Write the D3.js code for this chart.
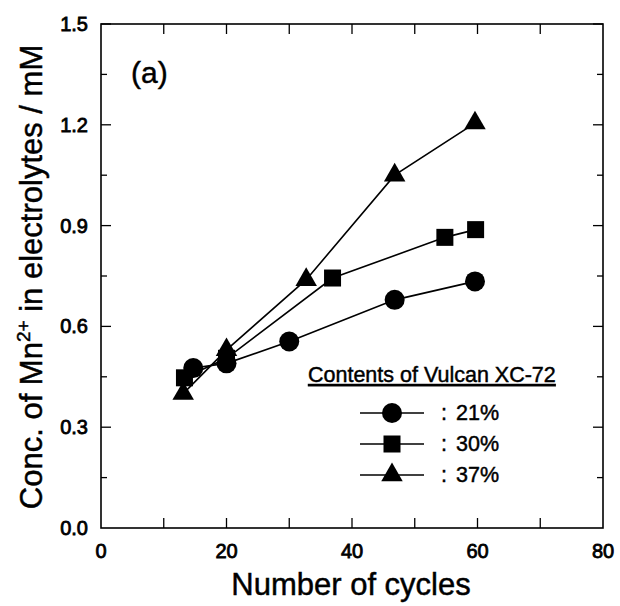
<!DOCTYPE html>
<html>
<head>
<meta charset="utf-8">
<script src="https://cdn.jsdelivr.net/npm/d3@7"></script>
<style>
  body { margin: 0; background: #fff; }
  svg text { font-family: "Liberation Sans", Arial, sans-serif; fill: #000; stroke: #000; stroke-width: 0.45px; }
  svg text.tick-label { stroke-width: 0.8px; }
</style>
</head>
<body>
<div id="chart"></div>
<script>
// data
const cycles21 = [14.7, 20, 30, 46.8, 59.6];
const conc21   = [0.476, 0.49, 0.555, 0.679, 0.734];
const cycles30 = [13.3, 20, 36.9, 54.8, 59.7];
const conc30   = [0.447, 0.505, 0.744, 0.865, 0.888];
const cycles37 = [13.1, 20, 32.7, 46.8, 59.6];
const conc37   = [0.40, 0.53, 0.739, 1.05, 1.205];

const seriesNames = ["21%", "30%", "37%"];
const markerKinds = ["circle", "square", "triangle"];
const xTicks = [0, 20, 40, 60, 80];
const yTicks = [0.0, 0.3, 0.6, 0.9, 1.2, 1.5];

const width = 620, height = 606;
const margin = {top: 24, right: 17, bottom: 78, left: 101};

const svg = d3.select("#chart").append("svg")
    .attr("width", width)
    .attr("height", height);

const x = d3.scaleLinear().domain([0, 80]).range([margin.left, width - margin.right]);
const y = d3.scaleLinear().domain([0, 1.5]).range([height - margin.bottom, margin.top]);

// frame
svg.append("rect")
    .attr("x", x(0)).attr("y", y(1.5))
    .attr("width", x(80) - x(0)).attr("height", y(0) - y(1.5))
    .attr("fill", "none").attr("stroke", "#000").attr("stroke-width", 1.6);

// inward ticks
const xMinor = d3.range(10, 80, 10);
const yAll = d3.range(0.15, 1.5, 0.15);
const ticks = svg.append("g").attr("stroke", "#000").attr("stroke-width", 1.3);
xMinor.forEach(v => {
    ticks.append("line").attr("x1", x(v)).attr("x2", x(v)).attr("y1", y(0)).attr("y2", y(0) - 10);
    ticks.append("line").attr("x1", x(v)).attr("x2", x(v)).attr("y1", y(1.5)).attr("y2", y(1.5) + 10);
});
yAll.forEach(v => {
    const major = Math.abs(v / 0.3 - Math.round(v / 0.3)) < 1e-6;
    const len = major ? 10 : 6;
    ticks.append("line").attr("x1", x(0)).attr("x2", x(0) + len).attr("y1", y(v)).attr("y2", y(v));
    ticks.append("line").attr("x1", x(80)).attr("x2", x(80) - len).attr("y1", y(v)).attr("y2", y(v));
});

// tick labels
svg.append("g").selectAll("text").data(xTicks).join("text")
    .attr("class", "tick-label")
    .attr("x", d => x(d)).attr("y", y(0) + 30)
    .attr("text-anchor", "middle")
    .attr("font-size", 20)
    .text(d => d);

svg.append("g").selectAll("text").data(yTicks).join("text")
    .attr("class", "tick-label")
    .attr("x", x(0) - 13).attr("y", d => y(d) + 7)
    .attr("text-anchor", "end")
    .attr("font-size", 20)
    .text(d => d.toFixed(1));

// axis titles
svg.append("text")
    .attr("x", 351).attr("y", 595)
    .attr("text-anchor", "middle")
    .attr("font-size", 31)
    .text("Number of cycles");

const yTitle = svg.append("text")
    .attr("transform", "translate(42,277) rotate(-90)")
    .attr("text-anchor", "middle")
    .attr("font-size", 31);
yTitle.append("tspan").text("Conc. of Mn");
yTitle.append("tspan").attr("font-size", 19).attr("dy", -12).text("2+");
yTitle.append("tspan").attr("dy", 12).text(" in electrolytes / mM");

svg.append("text")
    .attr("x", 131).attr("y", 83)
    .attr("font-size", 30)
    .text("(a)");

// markers
function drawMarker(g, kind, cx, cy) {
    if (kind === "circle") {
        g.append("circle").attr("cx", cx).attr("cy", cy).attr("r", 10);
    } else if (kind === "square") {
        g.append("rect").attr("x", cx - 8.5).attr("y", cy - 8.5).attr("width", 17).attr("height", 17);
    } else {
        g.append("path").attr("d", d3.symbol(d3.symbolTriangle, 200)()).attr("transform", `translate(${cx},${cy})`);
    }
}

const series = [
    {xs: cycles21, ys: conc21},
    {xs: cycles30, ys: conc30},
    {xs: cycles37, ys: conc37}
];

const line = d3.line().x(d => x(d[0])).y(d => y(d[1]));

series.forEach((s, i) => {
    const pts = s.xs.map((v, j) => [v, s.ys[j]]);
    svg.append("path").datum(pts)
        .attr("d", line)
        .attr("fill", "none").attr("stroke", "#000").attr("stroke-width", 1.6);
    const g = svg.append("g").attr("fill", "#000");
    pts.forEach(p => drawMarker(g, markerKinds[i], x(p[0]), y(p[1])));
});

// legend
const legend = svg.append("g");
legend.append("text")
    .attr("x", 308).attr("y", 382)
    .attr("font-size", 21.5)
    .attr("text-decoration", "underline")
    .text("Contents of Vulcan XC-72");

seriesNames.forEach((name, i) => {
    const ly = 413 + i * 31;
    legend.append("line").attr("x1", 360).attr("x2", 424).attr("y1", ly).attr("y2", ly)
        .attr("stroke", "#000").attr("stroke-width", 1.3);
    drawMarker(legend.append("g").attr("fill", "#000"), markerKinds[i], 392, ly);
    legend.append("text")
        .attr("x", 441).attr("y", ly + 7)
        .attr("font-size", 21.5)
        .text(":");
    legend.append("text")
        .attr("x", 456).attr("y", ly + 7)
        .attr("font-size", 21.5)
        .text(name);
});
</script>
</body>
</html>
